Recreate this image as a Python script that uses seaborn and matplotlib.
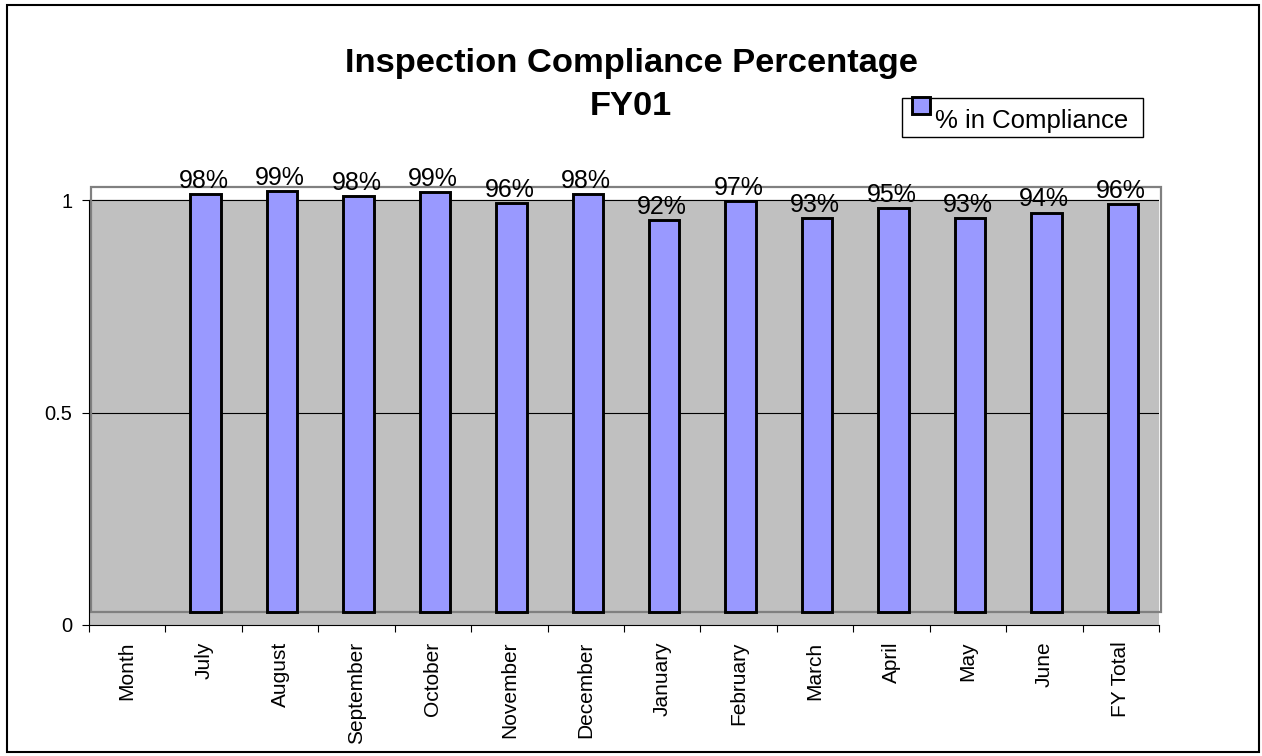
import numpy as np
import matplotlib
matplotlib.use("Agg")
import matplotlib.pyplot as plt
import matplotlib.transforms as mtransforms
from matplotlib.patches import Rectangle
import seaborn as sns

# --- data ---
categories = ["Month", "July", "August", "September", "October", "November", "December",
              "January", "February", "March", "April", "May", "June", "FY Total"]
months = categories[1:]
compliance = [0.983, 0.991, 0.980, 0.989, 0.963, 0.983, 0.922,
              0.966, 0.926, 0.951, 0.926, 0.940, 0.961]
ytick_vals = [0, 0.5, 1]
ytick_text = ["0", "0.5", "1"]

W, H = 1262, 756
BAR = "#9999FF"
WALL = "#C0C0C0"
FRAME = "#808080"

sns.set_style("white")
plt.rcParams["font.family"] = ["Liberation Sans", "DejaVu Sans"]
plt.rcParams["text.color"] = "black"
plt.rcParams["xtick.color"] = "black"
plt.rcParams["ytick.color"] = "black"
plt.rcParams["axes.labelcolor"] = "black"

fig = plt.figure(figsize=(W / 100, H / 100), dpi=100)
ax = fig.add_axes([89 / W, 1 - 625 / H, (1159 - 89) / W, (625 - 187) / H])

sns.barplot(x=months, y=compliance, order=categories, color=BAR, saturation=1,
            width=0.40, edgecolor="black", linewidth=2.1, errorbar=None, ax=ax, zorder=3)

# excel 3d look: back wall + bars pushed up/right a little
shift = ax.transData + mtransforms.ScaledTranslation(2 / 100, 13 / 100, fig.dpi_scale_trans)
for bar in ax.patches:
    bar.set_transform(shift)

ax.set_xlim(-0.5, len(categories) - 0.5)
ax.set_ylim(0, 1 + 13 / 425)

ax.axhspan(0, 1, color=WALL, zorder=0)
ax.add_patch(Rectangle((-0.5, 0), len(categories), 1, transform=shift, fill=False,
                       edgecolor=FRAME, lw=1.6, clip_on=False, zorder=1.5))
for g in [0.5, 1]:
    ax.axhline(g, color="black", lw=0.8, zorder=1)

# value labels
for i, v in enumerate(compliance):
    ax.annotate(f"{v:.0%}", xy=(i + 1, v), xytext=(0, 19), textcoords="offset pixels",
                ha="center", va="baseline", fontsize=18, color="black")

# axes / ticks
ax.set_xticks(np.arange(-0.5, len(categories), 1))
ax.set_xticklabels([])
ax.set_xticks(range(len(categories)), minor=True)
ax.set_xticklabels(categories, minor=True, rotation=90, fontsize=15, va="top")
ax.tick_params(axis="x", which="major", length=5, width=0.8, color="black", direction="out", bottom=True)
ax.tick_params(axis="x", which="minor", length=0, pad=12, labelcolor="black")
ax.set_yticks(ytick_vals)
ax.set_yticklabels(ytick_text, fontsize=14.5)
ax.tick_params(axis="y", length=5, width=0.8, color="black", direction="out", pad=7, left=True,
               labelcolor="black")
ax.set_xlabel("")
ax.set_ylabel("")

for s in ["top", "right"]:
    ax.spines[s].set_visible(False)
ax.spines["left"].set_bounds(0, 1)
for s in ["left", "bottom"]:
    ax.spines[s].set_color("black")
    ax.spines[s].set_linewidth(0.8)

# title
fig.text(0.5, 1 - 72 / H, "Inspection Compliance Percentage", ha="center", va="baseline",
         fontsize=24.8, fontweight="bold", color="black")
fig.text(0.5, 1 - 115 / H, "FY01", ha="center", va="baseline", fontsize=24.8,
         fontweight="bold", color="black")

# legend box, drawn like the original
fig.add_artist(Rectangle((902 / W, 1 - 137 / H), (1143 - 902) / W, (137 - 98) / H,
                         transform=fig.transFigure, facecolor="white", edgecolor="black", lw=1))
fig.add_artist(Rectangle((912 / W, 1 - 114 / H), 18 / W, 17 / H, transform=fig.transFigure,
                         facecolor=BAR, edgecolor="black", lw=2.1))
fig.text(935 / W, 1 - 128 / H, "% in Compliance", ha="left", va="baseline", fontsize=18.5,
         color="black")

# chart border
fig.add_artist(Rectangle((7 / W, 1 - 752 / H), (1259 - 7) / W, (752 - 5) / H,
                         transform=fig.transFigure, fill=False, edgecolor="black", lw=1.5))

fig.savefig("out.png", dpi=100)
